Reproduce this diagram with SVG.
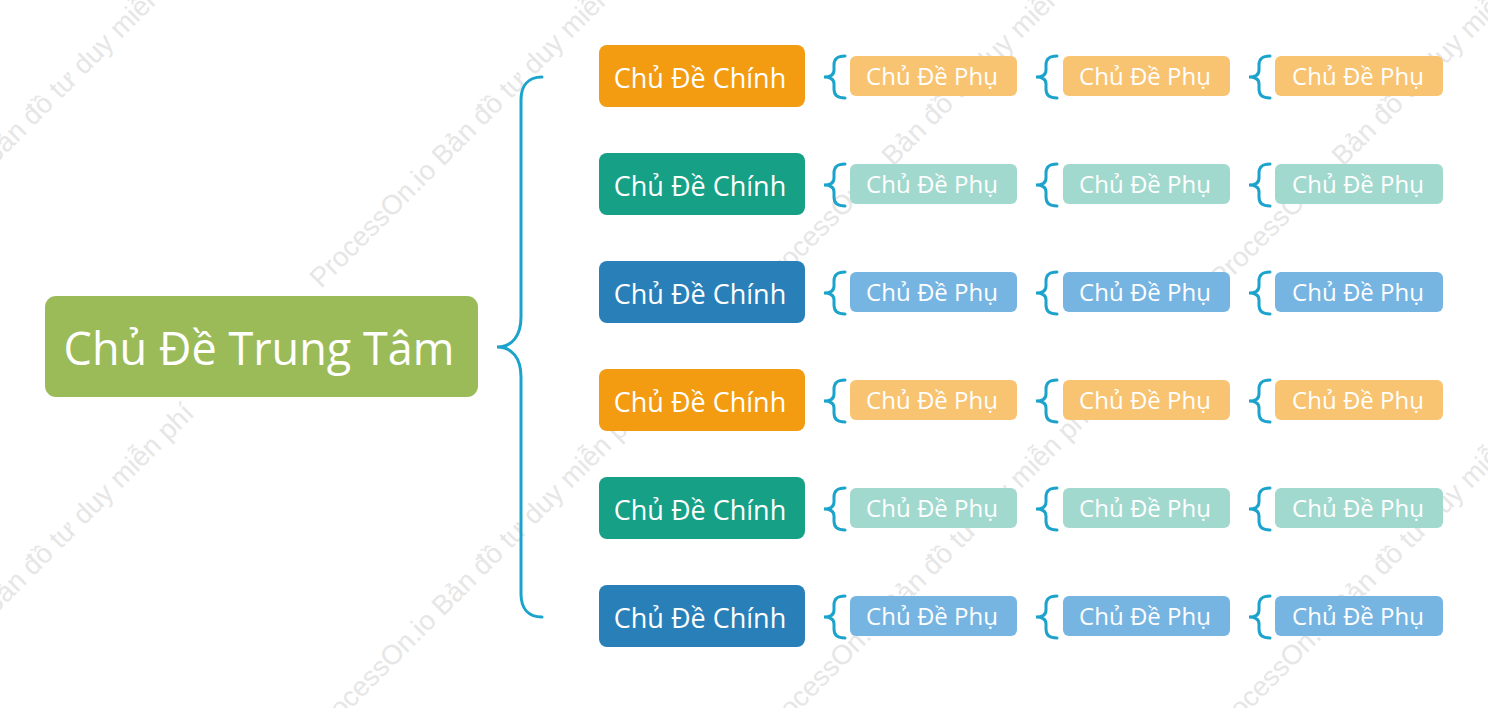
<svg xmlns="http://www.w3.org/2000/svg" width="1488" height="708" viewBox="0 0 1488 708">
<style>
.wm{font-family:"Liberation Sans",Arial,sans-serif;font-size:27.5px;fill:#e6e6e6}
.main text,.sub text,.center text{font-family:"Open Sans","Noto Sans",sans-serif;fill:#ffffff;text-anchor:middle}
.center text{font-size:45px}
.main text{font-size:27px}
.sub text{font-size:24px}
.br{fill:none;stroke:#1ba3cc;stroke-width:3;stroke-linecap:round}
.o{fill:#f39c12}.t{fill:#16a085}.b{fill:#2980b9}
.lo{fill:#f8c471}.lt{fill:#a2d9ce}.lb{fill:#76b4e2}
</style>
<defs>
<path id="sb" d="M21,-21 C13,-21 10,-18 10,-12 L10,-7 C10,-3 7,0 0,0 C7,0 10,3 10,7 L10,12 C10,18 13,21 21,21"/>
</defs>
<rect width="1488" height="708" fill="#ffffff"/>
<g id="watermark">
<text class="wm" transform="translate(-129,289) rotate(-45)">ProcessOn.io Bản đồ tư duy miễn phí</text>
<text class="wm" transform="translate(321,289) rotate(-45)">ProcessOn.io Bản đồ tư duy miễn phí</text>
<text class="wm" transform="translate(771,289) rotate(-45)">ProcessOn.io Bản đồ tư duy miễn phí</text>
<text class="wm" transform="translate(1221,289) rotate(-45)">ProcessOn.io Bản đồ tư duy miễn phí</text>
<text class="wm" transform="translate(-129,739) rotate(-45)">ProcessOn.io Bản đồ tư duy miễn phí</text>
<text class="wm" transform="translate(321,739) rotate(-45)">ProcessOn.io Bản đồ tư duy miễn phí</text>
<text class="wm" transform="translate(771,739) rotate(-45)">ProcessOn.io Bản đồ tư duy miễn phí</text>
<text class="wm" transform="translate(1221,739) rotate(-45)">ProcessOn.io Bản đồ tư duy miễn phí</text>
</g>
<g id="connectors">
<path class="br" d="M542,77 C528,77 521,86 521,100 L521,317 C521,336 512,347 497,347 C512,347 521,358 521,377 L521,594 C521,608 528,617 542,617"/>
<g class="br">
<use href="#sb" x="824" y="77"/><use href="#sb" x="1036" y="77"/><use href="#sb" x="1249" y="77"/>
<use href="#sb" x="824" y="185"/><use href="#sb" x="1036" y="185"/><use href="#sb" x="1249" y="185"/>
<use href="#sb" x="824" y="293"/><use href="#sb" x="1036" y="293"/><use href="#sb" x="1249" y="293"/>
<use href="#sb" x="824" y="401"/><use href="#sb" x="1036" y="401"/><use href="#sb" x="1249" y="401"/>
<use href="#sb" x="824" y="509"/><use href="#sb" x="1036" y="509"/><use href="#sb" x="1249" y="509"/>
<use href="#sb" x="824" y="617"/><use href="#sb" x="1036" y="617"/><use href="#sb" x="1249" y="617"/>
</g>
</g>
<g id="center" class="center">
<rect x="45" y="296" width="433" height="101" rx="11" fill="#9bbb59"/>
<text x="259" y="365">Chủ Đề Trung Tâm</text>
</g>
<g id="main1" class="main"><rect class="o" x="599" y="45" width="206" height="62" rx="8"/><text x="700" y="88">Chủ Đề Chính</text></g>
<g id="main2" class="main"><rect class="t" x="599" y="153" width="206" height="62" rx="8"/><text x="700" y="196">Chủ Đề Chính</text></g>
<g id="main3" class="main"><rect class="b" x="599" y="261" width="206" height="62" rx="8"/><text x="700" y="304">Chủ Đề Chính</text></g>
<g id="main4" class="main"><rect class="o" x="599" y="369" width="206" height="62" rx="8"/><text x="700" y="412">Chủ Đề Chính</text></g>
<g id="main5" class="main"><rect class="t" x="599" y="477" width="206" height="62" rx="8"/><text x="700" y="520">Chủ Đề Chính</text></g>
<g id="main6" class="main"><rect class="b" x="599" y="585" width="206" height="62" rx="8"/><text x="700" y="628">Chủ Đề Chính</text></g>

<g id="sub1a" class="sub"><rect class="lo" x="850" y="56" width="167" height="40" rx="6"/><text x="932" y="85">Chủ Đề Phụ</text></g>
<g id="sub1b" class="sub"><rect class="lo" x="1063" y="56" width="167" height="40" rx="6"/><text x="1145" y="85">Chủ Đề Phụ</text></g>
<g id="sub1c" class="sub"><rect class="lo" x="1275" y="56" width="168" height="40" rx="6"/><text x="1358" y="85">Chủ Đề Phụ</text></g>
<g id="sub2a" class="sub"><rect class="lt" x="850" y="164" width="167" height="40" rx="6"/><text x="932" y="193">Chủ Đề Phụ</text></g>
<g id="sub2b" class="sub"><rect class="lt" x="1063" y="164" width="167" height="40" rx="6"/><text x="1145" y="193">Chủ Đề Phụ</text></g>
<g id="sub2c" class="sub"><rect class="lt" x="1275" y="164" width="168" height="40" rx="6"/><text x="1358" y="193">Chủ Đề Phụ</text></g>
<g id="sub3a" class="sub"><rect class="lb" x="850" y="272" width="167" height="40" rx="6"/><text x="932" y="301">Chủ Đề Phụ</text></g>
<g id="sub3b" class="sub"><rect class="lb" x="1063" y="272" width="167" height="40" rx="6"/><text x="1145" y="301">Chủ Đề Phụ</text></g>
<g id="sub3c" class="sub"><rect class="lb" x="1275" y="272" width="168" height="40" rx="6"/><text x="1358" y="301">Chủ Đề Phụ</text></g>
<g id="sub4a" class="sub"><rect class="lo" x="850" y="380" width="167" height="40" rx="6"/><text x="932" y="409">Chủ Đề Phụ</text></g>
<g id="sub4b" class="sub"><rect class="lo" x="1063" y="380" width="167" height="40" rx="6"/><text x="1145" y="409">Chủ Đề Phụ</text></g>
<g id="sub4c" class="sub"><rect class="lo" x="1275" y="380" width="168" height="40" rx="6"/><text x="1358" y="409">Chủ Đề Phụ</text></g>
<g id="sub5a" class="sub"><rect class="lt" x="850" y="488" width="167" height="40" rx="6"/><text x="932" y="517">Chủ Đề Phụ</text></g>
<g id="sub5b" class="sub"><rect class="lt" x="1063" y="488" width="167" height="40" rx="6"/><text x="1145" y="517">Chủ Đề Phụ</text></g>
<g id="sub5c" class="sub"><rect class="lt" x="1275" y="488" width="168" height="40" rx="6"/><text x="1358" y="517">Chủ Đề Phụ</text></g>
<g id="sub6a" class="sub"><rect class="lb" x="850" y="596" width="167" height="40" rx="6"/><text x="932" y="625">Chủ Đề Phụ</text></g>
<g id="sub6b" class="sub"><rect class="lb" x="1063" y="596" width="167" height="40" rx="6"/><text x="1145" y="625">Chủ Đề Phụ</text></g>
<g id="sub6c" class="sub"><rect class="lb" x="1275" y="596" width="168" height="40" rx="6"/><text x="1358" y="625">Chủ Đề Phụ</text></g>
</svg>
